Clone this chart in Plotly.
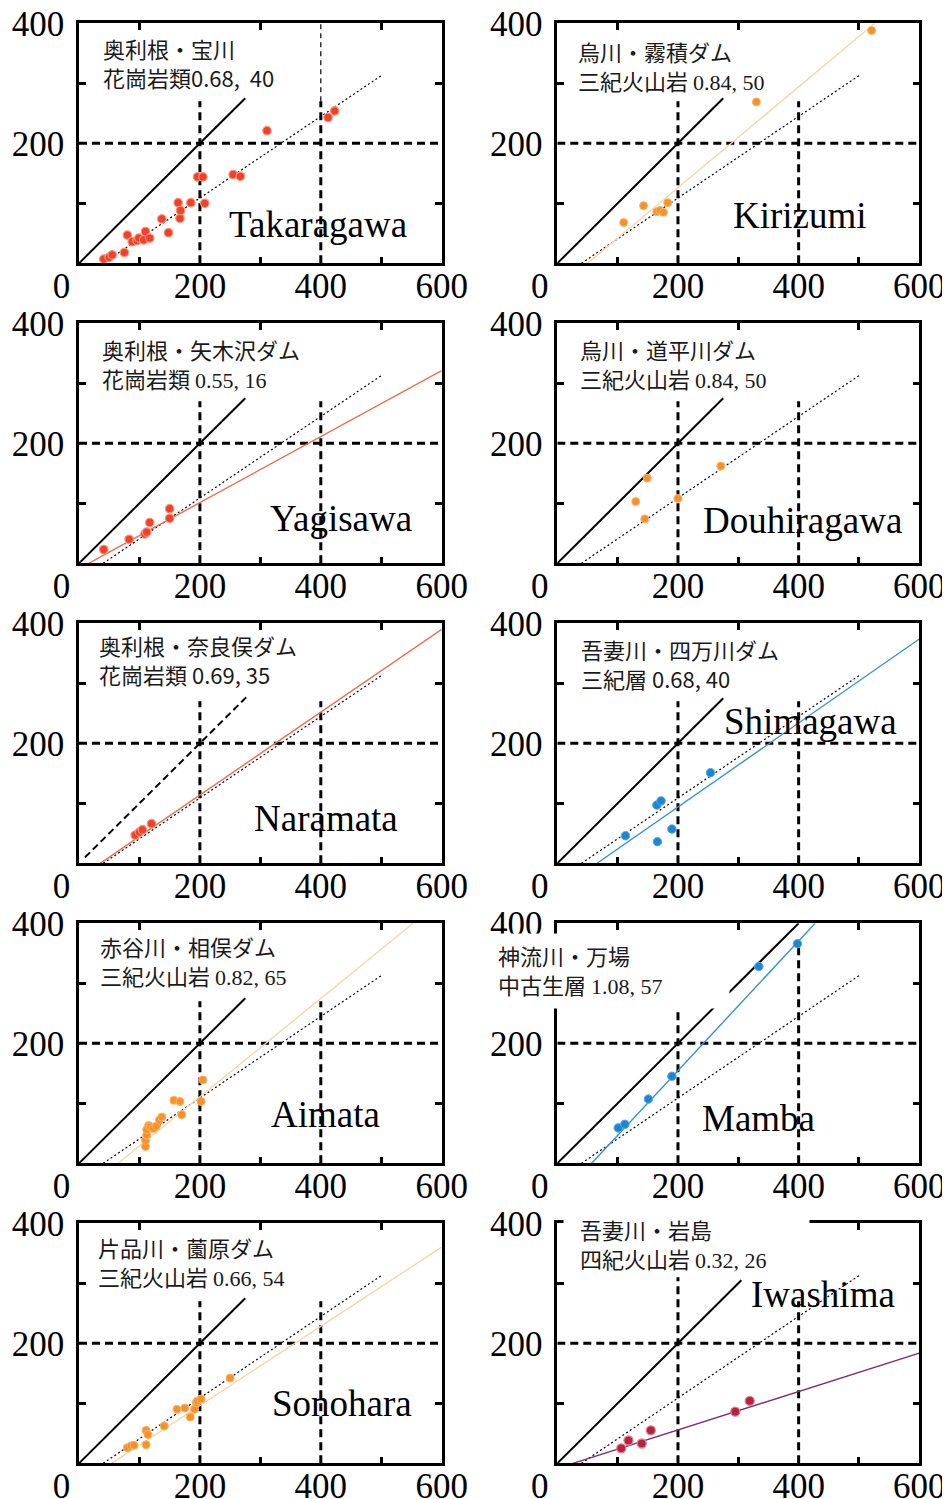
import plotly.graph_objects as go

# ---------------- data ----------------
panel_names = ["Takaragawa", "Kirizumi", "Yagisawa", "Douhiragawa", "Naramata",
               "Shimagawa", "Aimata", "Mamba", "Sonohara", "Iwashima"]

info_line1 = ["奥利根・宝川", "烏川・霧積ダム", "奥利根・矢木沢ダム", "烏川・道平川ダム",
              "奥利根・奈良俣ダム", "吾妻川・四万川ダム", "赤谷川・相俣ダム", "神流川・万場",
              "片品川・薗原ダム", "吾妻川・岩島"]
info_geology = ["花崗岩類", "三紀火山岩 ", "花崗岩類 ", "三紀火山岩 ", "花崗岩類 ",
                "三紀層 ", "三紀火山岩 ", "中古生層 ", "三紀火山岩 ", "四紀火山岩 "]
info_params = ["0.68,  40", "0.84, 50", "0.55, 16", "0.84, 50", "0.69, 35",
               "0.68, 40", "0.82, 65", "1.08, 57", "0.66, 54", "0.32, 26"]
info_params_serif = [False, True, True, True, False, False, True, True, True, True]

takaragawa_x = [41, 50, 55, 75, 80, 88, 96, 99, 107, 110, 117, 137, 148, 164, 167, 168,
                185, 196, 205, 208, 255, 267, 311, 412, 423]
takaragawa_y = [7, 10, 14, 18, 47, 36, 38, 42, 39, 53, 42, 74, 51, 101, 75, 88,
                101, 144, 144, 100, 148, 145, 221, 243, 254]
kirizumi_x = [110, 143, 165, 170, 176, 183, 330, 521]
kirizumi_y = [68, 96, 86, 88, 85, 101, 269, 388]
yagisawa_x = [41, 83, 109, 112, 117, 150, 150]
yagisawa_y = [23, 40, 49, 52, 68, 75, 91]
douhiragawa_x = [130, 145, 149, 200, 271]
douhiragawa_y = [103, 74, 142, 108, 162]
naramata_x = [93, 100, 105, 120]
naramata_y = [47, 52, 56, 66]
shimagawa_x = [113, 165, 172, 166, 190, 254]
shimagawa_y = [46, 97, 104, 36, 57, 151]
aimata_x = [110, 110, 112, 112, 115, 118, 123, 128, 133, 137, 157, 167, 170, 202, 205]
aimata_y = [28, 38, 47, 56, 63, 61, 58, 62, 72, 77, 105, 103, 81, 103, 139]
mamba_x = [101, 112, 151, 190, 334, 398]
mamba_y = [59, 65, 107, 145, 328, 366]
sonohara_x = [80, 86, 91, 111, 111, 114, 141, 162, 175, 184, 191, 194, 196, 202, 250]
sonohara_y = [26, 29, 30, 31, 55, 48, 62, 90, 92, 77, 90, 101, 104, 107, 142]
iwashima_x = [106, 118, 140, 155, 295, 319]
iwashima_y = [25, 38, 33, 55, 86, 104]

points_x = [takaragawa_x, kirizumi_x, yagisawa_x, douhiragawa_x, naramata_x,
            shimagawa_x, aimata_x, mamba_x, sonohara_x, iwashima_x]
points_y = [takaragawa_y, kirizumi_y, yagisawa_y, douhiragawa_y, naramata_y,
            shimagawa_y, aimata_y, mamba_y, sonohara_y, iwashima_y]

# fitted lines y = slope * (x - x0)
fit_slope = [None, 0.84, 0.55, None, 0.69, 0.70, 0.82, 1.08, 0.66, 0.32]
fit_x0 = [None, 50, 16, None, 35, 66, 65, 57, 54, 26]

# common reference line y = 0.68 * (x - 40)
ref_slope = 0.68
ref_x0 = 40
ref_x_end = 500

# 1:1 line extent per panel
one_to_one_end = [275, 275, 275, 275, 280, 275, 275, 400, 275, 305]
one_to_one_start = [0, 0, 0, 0, 10, 0, 0, 0, 0, 0]

grid_x = [200, 400]
grid_y = [200]
grid_top = [[270, 270], [270, 270], [270, 270], [270, 270], [270, 270],
            [270, 270], [270, 270], [262, 370], [270, 270], [310, 270]]

x_tick_vals = [0, 200, 400, 600]
x_tick_text = ["0\u00a0\u00a0\u00a0\u00a0", "200", "400", "600"]
y_tick_vals = [200, 400]
y_tick_text = ["200", "400"]
x_minor = [100, 300, 500]
y_minor = [100, 300]

# ---------------- styles ----------------
OFF = 8                      # page body margin
W, H = 950 - OFF, 1499 - OFF  # figure size
col_left = [79, 557.3]        # page pixels
col_right = [441.7, 919.3]
row_top = [23.3 + 300 * r for r in range(5)]
row_bot = [263.3 + 300 * r for r in range(5)]


def px_x(p):
    return (p - OFF) / W


def px_y(p):
    return 1 - (p - OFF) / H


red_pt = dict(color="#f0412a", line=dict(color="#f8957c", width=1.2), size=8.5)
orange_pt = dict(color="#f7922a", line=dict(color="#fab36a", width=1), size=8)
blue_pt = dict(color="#1c86d5", line=dict(color="#5aaae6", width=1), size=8.5)
crimson_pt = dict(color="#b5243e", line=dict(color="#e07c8c", width=1.3), size=9)
marker_styles = [red_pt, orange_pt, red_pt, orange_pt, red_pt,
                 blue_pt, orange_pt, blue_pt, orange_pt, crimson_pt]
fit_colors = [None, "#f7d6a6", "#ef6d4f", None, "#ef6d4f",
              "#3592d8", "#f7d6a6", "#3592d8", "#f7d6a6", "#7d2a6d"]

station_pos = [(395, 64), (402, 79), (433, 74), (407, 71), (408, 74),
               (420, 237), (408, 82), (334, 74), (435, 100), (441, 282)]
# info text block: left edge px, vertical centre px (page pixels)
info_px = [(101, 62), (576, 66), (100, 363), (578, 363), (97, 659),
           (579, 663), (98, 960), (496, 969), (96, 1261), (578, 1243)]
# white masks (page pixels): x0, x1, y0, y1
masks = {7: (495, 728, 933, 1007), 9: (563, 808, 1215, 1272)}

fig = go.Figure()
layout = dict(width=W, height=H,
              margin=dict(l=0, r=0, t=0, b=0, pad=0, autoexpand=False),
              paper_bgcolor="white", plot_bgcolor="white", showlegend=False)
annotations = []

serif = "Liberation Serif"
cjk = "Noto Sans CJK JP"

for i in range(10):
    r, c = divmod(i, 2)
    n = i + 1
    xa, ya = f"x{n}", f"y{n}"
    xd = [px_x(col_left[c]), px_x(col_right[c])]
    yd = [px_y(row_bot[r]), px_y(row_top[r])]
    layout[f"xaxis{n}"] = dict(
        domain=xd, anchor=ya, range=[0, 600], showgrid=False, zeroline=False,
        showline=True, linecolor="black", linewidth=2.5, mirror="ticks",
        automargin=False, ticklabeloverflow="allow",
        ticks="", tickmode="array", tickvals=x_tick_vals, ticktext=x_tick_text,
        tickfont=dict(family=serif, size=35, color="black"), ticklabelstandoff=-10,
        minor=dict(tickmode="array", tickvals=x_minor, ticks="inside", ticklen=7,
                   tickwidth=2.7, tickcolor="black", showgrid=False),
        fixedrange=True)
    layout[f"yaxis{n}"] = dict(
        domain=yd, anchor=xa, range=[0, 400], showgrid=False, zeroline=False,
        showline=True, linecolor="black", linewidth=2.5, mirror="ticks",
        automargin=False, ticklabeloverflow="allow",
        ticks="", tickmode="array", tickvals=y_tick_vals, ticktext=y_tick_text,
        tickfont=dict(family=serif, size=35, color="black"), ticklabelstandoff=5,
        minor=dict(tickmode="array", tickvals=y_minor, ticks="inside", ticklen=7,
                   tickwidth=2.7, tickcolor="black", showgrid=False),
        fixedrange=True)

    # dashed grid lines
    for gx, top in zip(grid_x, grid_top[i]):
        fig.add_trace(go.Scatter(x=[gx, gx], y=[0, top], mode="lines", xaxis=xa, yaxis=ya,
                                 line=dict(color="black", width=3, dash="8px,5px"),
                                 hoverinfo="skip"))
    if i == 0:
        fig.add_trace(go.Scatter(x=[400, 400], y=[270, 400], mode="lines", xaxis=xa, yaxis=ya,
                                 line=dict(color="black", width=1.2, dash="5px,4px"),
                                 hoverinfo="skip"))
    for gy in grid_y:
        fig.add_trace(go.Scatter(x=[0, 600], y=[gy, gy], mode="lines", xaxis=xa, yaxis=ya,
                                 line=dict(color="black", width=3, dash="8px,5px"),
                                 hoverinfo="skip"))
    # 1:1 line
    fig.add_trace(go.Scatter(x=[one_to_one_start[i], one_to_one_end[i]],
                             y=[one_to_one_start[i], one_to_one_end[i]],
                             mode="lines", xaxis=xa, yaxis=ya,
                             line=dict(color="black", width=2,
                                       dash="7px,4px" if i == 4 else "solid"),
                             hoverinfo="skip"))
    # reference dotted line
    fig.add_trace(go.Scatter(x=[ref_x0, ref_x_end],
                             y=[0, ref_slope * (ref_x_end - ref_x0)],
                             mode="lines", xaxis=xa, yaxis=ya,
                             line=dict(color="black", width=1.2, dash="2px,2.5px"),
                             hoverinfo="skip"))
    # fitted line
    if fit_slope[i] is not None:
        s, x0 = fit_slope[i], fit_x0[i]
        x_end = min(600, x0 + 400 / s)
        fig.add_trace(go.Scatter(x=[x0, x_end], y=[0, s * (x_end - x0)],
                                 mode="lines", xaxis=xa, yaxis=ya,
                                 line=dict(color=fit_colors[i], width=1.4),
                                 hoverinfo="skip"))
    # observations
    fig.add_trace(go.Scatter(x=points_x[i], y=points_y[i], mode="markers",
                             xaxis=xa, yaxis=ya, marker=marker_styles[i],
                             cliponaxis=False))

    # white mask boxes
    if i in masks:
        mx0, mx1, my0, my1 = masks[i]
        annotations.append(dict(
            xref="paper", yref="paper", x=px_x(mx0), y=px_y(my0),
            xanchor="left", yanchor="top", text="\u00a0", showarrow=False,
            width=mx1 - mx0, height=my1 - my0, bgcolor="white", borderpad=0,
            font=dict(size=4)))

    # info text
    params = info_params[i]
    if info_params_serif[i]:
        params = f"<span style=\"font-family:'{serif}'\">{params}</span>"
    annotations.append(dict(
        xref="paper", yref="paper", x=px_x(info_px[i][0]), y=px_y(info_px[i][1]),
        xanchor="left", yanchor="middle", align="left", showarrow=False,
        text=f"{info_line1[i]}<br>{info_geology[i]}{params}",
        font=dict(family=cjk, size=22, color="#1a1a1a")))
    # station name
    annotations.append(dict(
        xref=xa, yref=ya, x=station_pos[i][0], y=station_pos[i][1],
        xanchor="center", yanchor="middle", showarrow=False,
        text=panel_names[i], font=dict(family=serif, size=37, color="black")))

layout["annotations"] = annotations
fig.update_layout(**layout)
fig.write_html("out.html")
